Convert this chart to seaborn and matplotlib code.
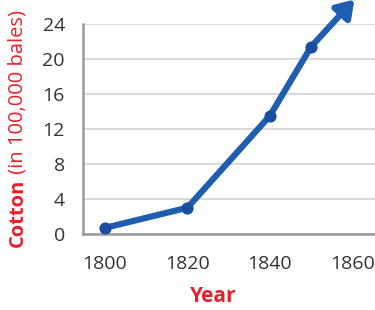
import matplotlib
matplotlib.use("Agg")
import matplotlib.pyplot as plt
import seaborn as sns
import pandas as pd

years = [1800, 1820, 1840, 1850]
cotton = [0.7, 3.0, 13.5, 21.4]
trend_years = [1850, 1860.5]
trend_vals = [21.4, 26.8]
yticks = [0, 4, 8, 12, 16, 20, 24]
xticks = [1800, 1820, 1840, 1860]

sns.set_theme(style="white")
plt.rcParams['font.family'] = ['Open Sans', 'DejaVu Sans']

LINE = "#1F5DB0"
MARK = "#1A4D9E"
RED = "#E8202A"
TXT = "#333333"

fig = plt.figure(figsize=(3.75, 3.10), dpi=100)
ax = fig.add_axes([83/375, 1-234/310, 1-83/375, (234-24)/310])

df = pd.DataFrame({"Year": years, "Cotton": cotton})
sns.lineplot(data=df, x="Year", y="Cotton", ax=ax, color=LINE, lw=4.5,
             marker="o", markersize=8, markerfacecolor=MARK,
             markeredgecolor=MARK, clip_on=False, zorder=5)

ax.annotate("", xy=(trend_years[1], trend_vals[1]),
            xytext=(trend_years[0], trend_vals[0]),
            xycoords="data", annotation_clip=False,
            arrowprops=dict(arrowstyle="-|>,head_length=0.5,head_width=0.33",
                            lw=4.5, color=LINE, shrinkA=0, shrinkB=0,
                            mutation_scale=20), zorder=4)

ax.set_xlim(1794.7, 1865.5)
ax.set_ylim(0, 24)
ax.set_xticks(xticks)
ax.set_yticks(yticks)
ax.tick_params(axis="both", length=0, labelsize=14, labelcolor=TXT)
ax.tick_params(axis="y", pad=13)
ax.tick_params(axis="x", pad=15)
ax.grid(axis="y", color="#DADADA", lw=1.5)
ax.grid(axis="x", visible=False)
for s in ["top", "right"]:
    ax.spines[s].set_visible(False)
for s in ["left", "bottom"]:
    ax.spines[s].set_color("#9A9A9A")
    ax.spines[s].set_linewidth(1.8)
ax.set_xlabel("")
ax.set_ylabel("")

t1 = fig.text(18/375, 1-247/310, "Cotton", rotation=90, color=RED,
              fontsize=14.5, fontweight="bold", ha="center", va="bottom")
fig.add_artist(plt.Annotation(" (in 100,000 bales)", xy=(0.5, 1.0),
                              xycoords=t1, rotation=90, color=RED,
                              fontsize=14.5, ha="center", va="bottom"))

fig.text(213/375, 1-297/310, "Year", color=RED, fontsize=15,
         fontweight="bold", ha="center", va="center")

fig.savefig("out.png", dpi=100)
